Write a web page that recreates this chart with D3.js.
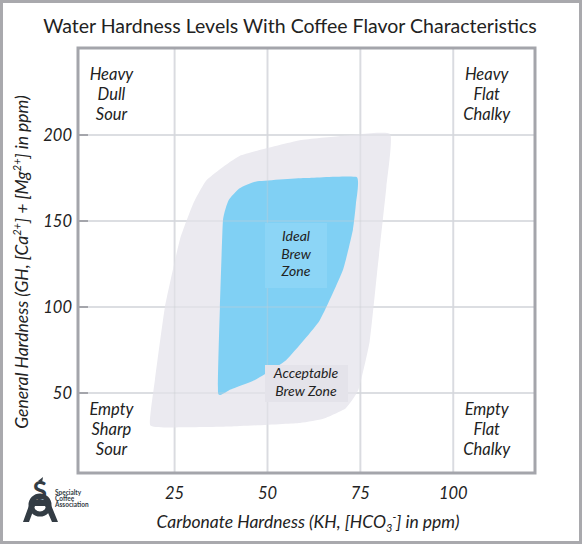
<!DOCTYPE html>
<html><head><meta charset="utf-8">
<script src="https://cdn.jsdelivr.net/npm/d3@7"></script>
<style>body{margin:0;background:#fff}svg{display:block}text{font-family:Lato,"Open Sans",sans-serif;fill:#222}</style>
</head><body>
<script>
const xTicks=[25,50,75,100];
const yTicks=[50,100,150,200];
const acceptableZone=[[18.4,31.4],[19.7,57.6],[22.4,100],[26.4,139],[30,160],[33.7,174],[42.6,188],[58.7,197],[70,199.5],[83,200.6],[82,170],[79.5,120],[77.5,80],[74.5,52],[71,41],[65,35],[58.7,32.6],[40,30.5],[25,30]];
const idealZone=[[36.7,50],[37.2,100],[38,150],[39.5,162],[42.5,169],[47,173],[60,175],[74,175.6],[73.8,160],[73,145],[70.3,121.5],[64,92],[55,69],[47,58],[40,52]];
const cornerLabels=[{x:8,y:232,lines:["Heavy","Dull","Sour"]},{x:109,y:232,lines:["Heavy","Flat","Chalky"]},{x:8,y:37,lines:["Empty","Sharp","Sour"]},{x:109,y:37,lines:["Empty","Flat","Chalky"]}];

const W=582,H=544;
const svg=d3.select("body").append("svg").attr("width",W).attr("height",H);
svg.append("rect").attr("x",1.5).attr("y",1.5).attr("width",W-3).attr("height",H-3).attr("fill","none").attr("stroke","#a9a9ad").attr("stroke-width",3);
const x=d3.scaleLinear().domain([-1,122]).range([78,535]);
const y=d3.scaleLinear().domain([3.5,250.6]).range([473,48]);

svg.append("text").attr("x",290).attr("y",33).attr("text-anchor","middle").attr("font-size",19.5).text("Water Hardness Levels With Coffee Flavor Characteristics");

const g=svg.append("g");
g.selectAll(".vg").data(xTicks).join("line").attr("x1",d=>x(d)).attr("x2",d=>x(d)).attr("y1",48).attr("y2",473).attr("stroke","#e3e4e8").attr("stroke-width",2);
g.selectAll(".hg").data(yTicks).join("line").attr("x1",78).attr("x2",535).attr("y1",d=>y(d)).attr("y2",d=>y(d)).attr("stroke","#e3e4e8").attr("stroke-width",2);
const line=d3.line().x(d=>x(d[0])).y(d=>y(d[1])).curve(d3.curveCardinalClosed.tension(0.6));
g.append("path").attr("d",line(acceptableZone)).attr("fill","#ebeaf0");
g.append("path").attr("d",line(idealZone)).attr("fill","#80d0f4");
g.selectAll(".vg2").data(xTicks).join("line").attr("x1",d=>x(d)).attr("x2",d=>x(d)).attr("y1",48).attr("y2",473).attr("stroke","#c8cad0").attr("stroke-opacity",0.35).attr("stroke-width",1.5);
g.selectAll(".hg2").data(yTicks).join("line").attr("x1",78).attr("x2",535).attr("y1",d=>y(d)).attr("y2",d=>y(d)).attr("stroke","#c8cad0").attr("stroke-opacity",0.35).attr("stroke-width",1.5);
g.append("rect").attr("x",265).attr("y",223).attr("width",62).attr("height",65).attr("fill","#8cd5f6");
g.append("rect").attr("x",265).attr("y",365).attr("width",83).attr("height",37).attr("fill","#e4e3ea");
function ml(tx,ty,lines,fs,lh){const t=g.append("text").attr("x",tx).attr("y",ty).attr("text-anchor","middle").attr("font-size",fs).attr("font-style","italic");
 lines.forEach((l,i)=>t.append("tspan").attr("x",tx).attr("dy",i?lh:0).text(l));}
ml(296,241,["Ideal","Brew","Zone"],14,17.5);
ml(306,378,["Acceptable","Brew Zone"],14,18);
cornerLabels.forEach(c=>ml(x(c.x),y(c.y),c.lines,16.5,20));
g.append("rect").attr("x",78).attr("y",48).attr("width",457).attr("height",425).attr("fill","none").attr("stroke","#a4a5ab").attr("stroke-width",3);
g.selectAll(".yt").data(yTicks).join("line").attr("x1",78).attr("x2",88).attr("y1",d=>y(d)).attr("y2",d=>y(d)).attr("stroke","#a4a5ab").attr("stroke-width",2);
svg.selectAll(".ytl").data(yTicks).join("text").attr("x",72).attr("y",d=>y(d)+6).attr("text-anchor","end").attr("font-size",16.5).attr("font-style","italic").text(d=>d);
svg.selectAll(".xtl").data(xTicks).join("text").attr("x",d=>x(d)).attr("y",499).attr("text-anchor","middle").attr("font-size",16.5).attr("font-style","italic").text(d=>d);
const xt=svg.append("text").attr("x",308).attr("y",528).attr("text-anchor","middle").attr("font-size",17.5).attr("font-style","italic");
xt.append("tspan").text("Carbonate Hardness (KH, [HCO");
xt.append("tspan").attr("font-size",11).attr("dy",4).text("3");
xt.append("tspan").attr("font-size",11).attr("dy",-11).text("-");
xt.append("tspan").attr("dy",7).text("] in ppm)");
const yt=svg.append("text").attr("transform","translate(28,262) rotate(-90)").attr("text-anchor","middle").attr("font-size",17.5).attr("font-style","italic");
yt.append("tspan").text("General Hardness (GH, [Ca");
yt.append("tspan").attr("font-size",11).attr("dy",-7).text("2+");
yt.append("tspan").attr("dy",7).text("] + [Mg");
yt.append("tspan").attr("font-size",11).attr("dy",-7).text("2+");
yt.append("tspan").attr("dy",7).text("] in ppm)");
// logo
const c="#333c44";
const lg=svg.append("g").attr("fill",c);
lg.append("path").attr("d","M23,522 L31,500 L49,500 L58,522 L52,522 L45,506 L35,506 L29,522 Z");
lg.append("circle").attr("cx",40).attr("cy",505).attr("r",9).attr("fill","none").attr("stroke",c).attr("stroke-width",5);
lg.append("text").attr("x",40).attr("y",500).attr("text-anchor","middle").attr("font-size",26).attr("font-weight","bold").style("fill",c).text("S");
lg.append("path").attr("d","M38,481 L43,477 L42,483 Z");
[["Specialty",495],["Coffee",501],["Association",507]].forEach(a=>lg.append("text").attr("x",55).attr("y",a[1]).attr("font-size",6.5).attr("font-weight","bold").style("fill",c).text(a[0]));
</script>
</body></html>
